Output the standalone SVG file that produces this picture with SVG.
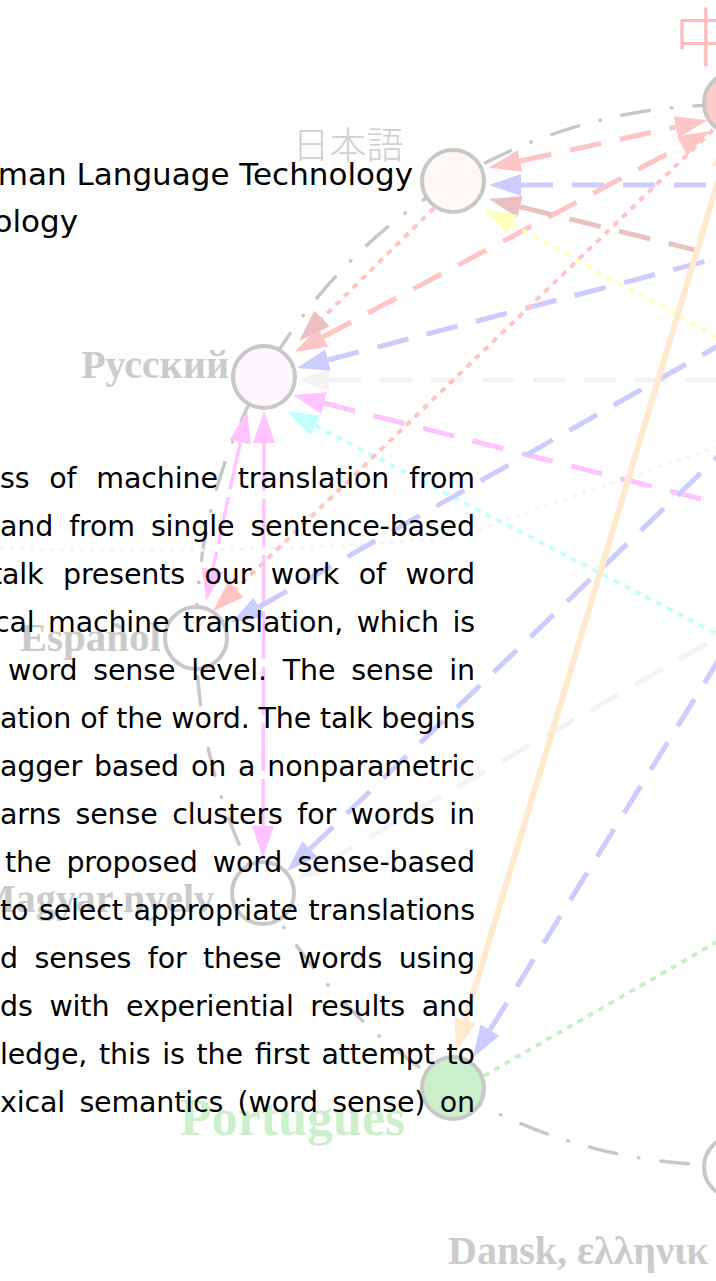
<svg xmlns="http://www.w3.org/2000/svg" width="716" height="1281" viewBox="0 0 716 1281">
<style>
.ring{fill:none;stroke:#c8c8c8;stroke-width:3.5;stroke-dasharray:28 22 0.5 22;stroke-linecap:round}
.e{fill:none}
.dash{stroke-width:5;stroke-dasharray:32 19}
.dot{stroke-width:4;stroke-dasharray:6 6}
.long{stroke-width:3.5;stroke-dasharray:48 8}
.solid{stroke-width:6}
.node{stroke:#c8c8c8;stroke-width:4}
.lbl{font-family:"Liberation Serif","Times New Roman",serif;font-weight:bold;fill:#cbcbcb}
.cjk{font-family:"Noto Sans CJK JP","Noto Sans CJK SC",sans-serif;font-weight:300}
.title{font-family:"DejaVu Sans",Verdana,sans-serif;font-size:31px;fill:#000;text-anchor:end}
.body{font-family:"DejaVu Sans",Verdana,sans-serif;font-size:28.5px;fill:#000}
</style>
<defs>
<marker id="a-pink" markerUnits="userSpaceOnUse" markerWidth="32" markerHeight="22" viewBox="0 0 32 22" refX="0" refY="11" orient="auto-start-reverse"><path d="M0,0 L32,11 L0,22 z" fill="#ffc4c4"/></marker>
<marker id="a-rosy" markerUnits="userSpaceOnUse" markerWidth="32" markerHeight="22" viewBox="0 0 32 22" refX="0" refY="11" orient="auto-start-reverse"><path d="M0,0 L32,11 L0,22 z" fill="#ebc0c0"/></marker>
<marker id="a-blue" markerUnits="userSpaceOnUse" markerWidth="32" markerHeight="22" viewBox="0 0 32 22" refX="0" refY="11" orient="auto-start-reverse"><path d="M0,0 L32,11 L0,22 z" fill="#ccccff"/></marker>
<marker id="a-yellow" markerUnits="userSpaceOnUse" markerWidth="32" markerHeight="22" viewBox="0 0 32 22" refX="0" refY="11" orient="auto-start-reverse"><path d="M0,0 L32,11 L0,22 z" fill="#ffffc0"/></marker>
<marker id="a-gray" markerUnits="userSpaceOnUse" markerWidth="32" markerHeight="22" viewBox="0 0 32 22" refX="0" refY="11" orient="auto-start-reverse"><path d="M0,0 L32,11 L0,22 z" fill="#f3f3f3"/></marker>
<marker id="a-mag" markerUnits="userSpaceOnUse" markerWidth="32" markerHeight="22" viewBox="0 0 32 22" refX="0" refY="11" orient="auto-start-reverse"><path d="M0,0 L32,11 L0,22 z" fill="#ffc4ff"/></marker>
<marker id="a-cyan" markerUnits="userSpaceOnUse" markerWidth="32" markerHeight="22" viewBox="0 0 32 22" refX="0" refY="11" orient="auto-start-reverse"><path d="M0,0 L32,11 L0,22 z" fill="#c4ffff"/></marker>
<marker id="a-orange" markerUnits="userSpaceOnUse" markerWidth="32" markerHeight="22" viewBox="0 0 32 22" refX="0" refY="11" orient="auto-start-reverse"><path d="M0,0 L32,11 L0,22 z" fill="#ffead0"/></marker>
</defs>
<rect x="0" y="0" width="716" height="1281" fill="#ffffff"/>

<g id="connectors">
  <circle class="ring" cx="726" cy="635" r="530"/>
  <path class="e" d="M-10,548 Q250,556 456,537 L760,432" stroke="#f5f5f5" stroke-width="3" stroke-dasharray="4 6"/>
  <line class="e dash" x1="329" y1="380" x2="760" y2="380" stroke="#f3f3f3" marker-start="url(#a-gray)"/>
  <line class="e dash" x1="325" y1="863" x2="760" y2="613" stroke="#f3f3f3" marker-start="url(#a-gray)"/>
  <line class="e dash" x1="520" y1="161" x2="676" y2="127" stroke="#ffc4c4" marker-start="url(#a-pink)" marker-end="url(#a-pink)"/>
  <line class="e dash" x1="323" y1="337" x2="682" y2="146" stroke="#ffc4c4" marker-start="url(#a-pink)" marker-end="url(#a-pink)"/>
  <line class="e dot" x1="434" y1="208" x2="322" y2="318.5" stroke="#ffc4c4" marker-end="url(#a-rosy)"/>
  <line class="e dash" x1="521" y1="185" x2="760" y2="185" stroke="#ccccff" marker-start="url(#a-blue)"/>
  <line class="e dash" x1="520" y1="206.7" x2="760" y2="266" stroke="#e9c2c2" marker-start="url(#a-rosy)"/>
  <line class="e dot" x1="512" y1="224.4" x2="760" y2="360.8" stroke="#ffffc0" marker-start="url(#a-yellow)"/>
  <line class="e dash" x1="328" y1="360" x2="760" y2="247" stroke="#ccccff" marker-start="url(#a-blue)"/>
  <line class="e dash" x1="324" y1="403" x2="760" y2="514" stroke="#ffc4ff" marker-start="url(#a-mag)"/>
  <line class="e dot" x1="315.4" y1="425.7" x2="760" y2="656" stroke="#c4ffff" marker-start="url(#a-cyan)"/>
  <line class="e long" x1="240.3" y1="442.3" x2="212.7" y2="569.7" stroke="#ffc4ff" marker-start="url(#a-mag)" marker-end="url(#a-mag)"/>
  <line class="e long" x1="264" y1="443" x2="263" y2="826" stroke="#ffc4ff" marker-start="url(#a-mag)" marker-end="url(#a-mag)"/>
  <line class="e dot" x1="713" y1="130" x2="236" y2="589" stroke="#ffc4c4" marker-end="url(#a-pink)"/>
  <line class="e dash" x1="259" y1="607" x2="760" y2="322" stroke="#ccccff" marker-start="url(#a-blue)"/>
  <line class="e dash" x1="310" y1="849" x2="760" y2="416" stroke="#ccccff" marker-start="url(#a-blue)"/>
  <line class="e dash" x1="490" y1="1030" x2="760" y2="593" stroke="#ccccff" marker-start="url(#a-blue)"/>
  <line class="e dot" x1="484" y1="1076" x2="760" y2="917" stroke="#c8f0c8"/>
  <line class="e solid" x1="465.2" y1="1020.4" x2="721.8" y2="168.6" stroke="#ffead0" marker-start="url(#a-orange)" marker-end="url(#a-orange)"/>
</g>

<g id="node-zh">
  <circle class="node" cx="735" cy="103" r="31" fill="#ffcccc"/>
  <text class="cjk" x="674" y="61" font-size="64" fill="#ffbbbb">中</text>
</g>
<g id="node-ja">
  <circle class="node" cx="453" cy="181" r="31" fill="#fff8f5"/>
  <text class="cjk" x="348" y="159" font-size="37" fill="#cfcfcf" text-anchor="middle">日本語</text>
</g>
<g id="node-ru">
  <circle class="node" cx="264" cy="377" r="31" fill="#fdf6fd"/>
  <text class="lbl" x="229" y="378" font-size="40" text-anchor="end">Русский</text>
</g>
<g id="node-es">
  <circle class="node" cx="196" cy="638" r="31" fill="#ffffff"/>
  <text class="lbl" x="161" y="651" font-size="41" text-anchor="end">Español</text>
</g>
<g id="node-hu">
  <circle class="node" cx="263" cy="893" r="31" fill="#ffffff"/>
  <text class="lbl" x="214" y="912" font-size="40" text-anchor="end">Magyar nyelv</text>
</g>
<g id="node-pt">
  <circle class="node" cx="453" cy="1088" r="31" fill="#ccf0cc"/>
  <text class="lbl" x="180" y="1135" font-size="52" style="fill:#ccf0cc">Portugues</text>
</g>
<g id="node-da">
  <circle class="node" cx="735" cy="1167" r="31" fill="#ffffff"/>
  <text class="lbl" x="448" y="1264" font-size="40">Dansk, ελληνικ</text>
</g>

<g id="page-text">
  <text class="title" x="413" y="185">man Language Technology</text>
  <text class="title" x="78" y="232">ology</text>
  <text class="body" x="0" y="488" word-spacing="11" textLength="475" lengthAdjust="spacing">ss of machine translation from</text>
  <text class="body" x="0" y="536" word-spacing="7.2" textLength="475" lengthAdjust="spacing">and from single sentence-based</text>
  <text class="body" x="-9" y="584" word-spacing="10.6" textLength="484" lengthAdjust="spacing">talk presents our work of word</text>
  <text class="body" x="-6" y="632" word-spacing="4.65" textLength="481" lengthAdjust="spacing">cal machine translation, which is</text>
  <text class="body" x="8" y="680" word-spacing="7" textLength="467" lengthAdjust="spacing">word sense level. The sense in</text>
  <text class="body" x="0" y="728" textLength="475" lengthAdjust="spacing">ation of the word. The talk begins</text>
  <text class="body" x="0" y="776" word-spacing="3.1" textLength="475" lengthAdjust="spacing">agger based on a nonparametric</text>
  <text class="body" x="0" y="824" word-spacing="5.6" textLength="475" lengthAdjust="spacing">arns sense clusters for words in</text>
  <text class="body" x="5" y="872" word-spacing="6.2" textLength="470" lengthAdjust="spacing">the proposed word sense-based</text>
  <text class="body" x="0" y="920" word-spacing="1.8" textLength="475" lengthAdjust="spacing">to select appropriate translations</text>
  <text class="body" x="0" y="968" word-spacing="7.7" textLength="475" lengthAdjust="spacing">d senses for these words using</text>
  <text class="body" x="0" y="1016" word-spacing="7.8" textLength="475" lengthAdjust="spacing">ds with experiential results and</text>
  <text class="body" x="0" y="1064" word-spacing="3" textLength="475" lengthAdjust="spacing">ledge, this is the first attempt to</text>
  <text class="body" x="0" y="1112" word-spacing="5.5" textLength="475" lengthAdjust="spacing">xical semantics (word sense) on</text>
</g>
</svg>
